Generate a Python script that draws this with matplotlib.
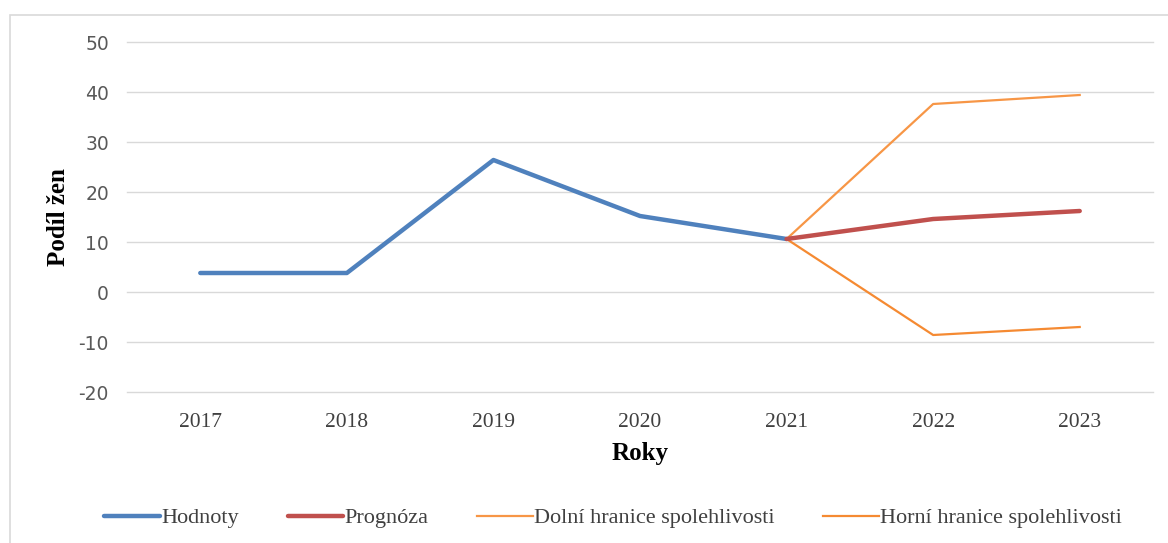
import matplotlib
matplotlib.use("Agg")
import matplotlib.pyplot as plt
from matplotlib.patches import Rectangle

plt.rcParams["axes.unicode_minus"] = False

years = ["2017", "2018", "2019", "2020", "2021", "2022", "2023"]
hodnoty = [3.8, 3.8, 26.4, 15.2, 10.6]
prognoza = [10.6, 14.6, 16.2]
dolni = [10.6, 37.6, 39.4]
horni = [10.6, -8.6, -7.0]
yticks = [-20, -10, 0, 10, 20, 30, 40, 50]

W, H = 1168, 543
fig = plt.figure(figsize=(W / 100, H / 100), dpi=100)
ax = fig.add_axes([127 / W, 1 - 392 / H, (1153 - 127) / W, (392 - 42) / H])

x_h = list(range(0, 5))
x_p = list(range(4, 7))

ax.plot(x_h, hodnoty, color="#4F81BD", lw=3.2, solid_capstyle="round", label="Hodnoty", zorder=3)
ax.plot(x_p, prognoza, color="#C0504D", lw=3.2, solid_capstyle="round", label="Prognóza", zorder=4)
ax.plot(x_p, dolni, color="#F79646", lw=1.6, label="Dolní hranice spolehlivosti", zorder=2)
ax.plot(x_p, horni, color="#F58A32", lw=1.6, label="Horní hranice spolehlivosti", zorder=2)

ax.set_xlim(-0.5, 6.5)
ax.set_ylim(-20, 50)
ax.set_yticks(yticks)
ax.set_xticks(range(len(years)))
ax.set_xticklabels(years, family="Liberation Serif", fontsize=15.5, color="#404040")
ax.tick_params(axis="y", labelsize=13.5, labelcolor="#595959", length=0, pad=13)
ax.tick_params(axis="x", length=0, pad=15)
ax.grid(axis="y", color="#D9D9D9", lw=1)
for gl in ax.get_ygridlines():
    gl.set_clip_on(False)
ax.set_axisbelow(True)
for s in ax.spines.values():
    s.set_visible(False)

ax.set_xlabel("Roky", family="Liberation Serif", fontsize=18, fontweight="bold", labelpad=7)
ax.set_ylabel("Podíl žen", family="Liberation Serif", fontsize=18, fontweight="bold", labelpad=6)

leg = fig.legend(loc="center", bbox_to_anchor=(0.525, 1 - 518 / H), ncol=4, frameon=False,
                 prop={"family": "Liberation Serif", "size": 16}, handlelength=2.5,
                 handletextpad=0.05, columnspacing=2.2)
for t in leg.get_texts():
    t.set_color("#404040")

fig.patches.append(Rectangle((10 / W, -0.1), 2, 1.1 - 15 / H, transform=fig.transFigure,
                             fill=False, edgecolor="#D9D9D9", lw=1.2))

fig.savefig("out.png", dpi=100)
